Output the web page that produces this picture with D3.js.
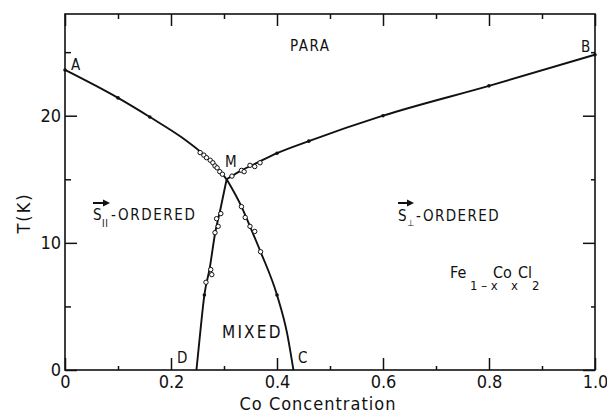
<!DOCTYPE html>
<html>
<head>
<meta charset="utf-8">
<script src="https://cdn.jsdelivr.net/npm/d3@7"></script>
<style>
  html, body { margin: 0; padding: 0; background: #fff; }
  svg { display: block; }
  text { font-family: "Liberation Sans Narrow", "Arial Narrow", "DejaVu Sans Condensed", "Liberation Sans", sans-serif; fill: #111; }
</style>
</head>
<body>
<svg id="chart" width="607" height="413"></svg>
<script>
// Fe(1-x)Co(x)Cl2 magnetic phase diagram: T (K) versus Co concentration x

// axis ticks
const xMajorTicks = [0, 0.2, 0.4, 0.6, 0.8, 1.0];
const xMajorLabels = ["0", "0.2", "0.4", "0.6", "0.8", "1.0"];
const xMinorTicks = [0.1, 0.3, 0.5, 0.7, 0.9];
const yMajorTicks = [0, 10, 20];
const yMajorLabels = ["0", "10", "20"];
const yMinorTicks = [5, 15, 25];

// phase boundaries [x, T], each running from an end point to the multicritical point M
const boundaryAM = [[0, 23.6], [0.1, 21.4], [0.16, 19.9], [0.22, 18.3], [0.26, 17.0], [0.285, 16.0], [0.305, 15.0]];
const boundaryMB = [[0.305, 15.0], [0.333, 15.7], [0.36, 16.25], [0.4, 17.05], [0.46, 18.0], [0.6, 20.0], [0.8, 22.35], [1.0, 24.8]];
const boundaryMC = [[0.305, 15.0], [0.333, 12.85], [0.349, 11.3], [0.369, 9.3], [0.4, 5.9], [0.419, 2.9], [0.431, 0]];
const boundaryMD = [[0.248, 0], [0.256, 3.3], [0.263, 5.9], [0.273, 8.0], [0.283, 10.7], [0.293, 12.6], [0.305, 15.0]];

// measured transition points (open circles)
const openPoints = [
  [0.255, 17.1], [0.262, 16.9], [0.267, 16.7], [0.274, 16.5], [0.279, 16.3], [0.283, 16.05], [0.287, 15.9], [0.292, 15.6], [0.297, 15.4],
  [0.315, 15.25], [0.333, 15.7], [0.338, 15.6], [0.349, 16.1], [0.358, 16.0], [0.368, 16.3],
  [0.333, 12.85], [0.34, 12.0], [0.349, 11.3], [0.358, 10.9], [0.369, 9.3],
  [0.294, 12.3], [0.286, 11.9], [0.289, 11.3], [0.283, 10.8], [0.275, 7.9], [0.277, 7.5], [0.266, 6.9]
];
// measured transition points (small solid dots)
const solidPoints = [
  [0, 23.6], [0.1, 21.4], [0.16, 19.9], [0.4, 17.05], [0.46, 18.0], [0.6, 20.0], [0.8, 22.35], [1.0, 24.8], [0.4, 5.9], [0.263, 5.9]
];

const svg = d3.select("#chart");
const x = d3.scaleLinear().domain([0, 1]).range([65, 595]);
const y = d3.scaleLinear().domain([0, 28]).range([370, 14]);

// frame
svg.append("rect")
  .attr("x", x(0)).attr("y", y(28))
  .attr("width", x(1) - x(0)).attr("height", y(0) - y(28))
  .attr("fill", "none").attr("stroke", "#111").attr("stroke-width", 1.6);

function styleAxis(g, fontSize) {
  g.select(".domain").remove();
  g.selectAll(".tick line").attr("stroke", "#111").attr("stroke-width", 1.5);
  g.selectAll(".tick text").attr("fill", "#111").style("font-size", fontSize + "px")
    .style("font-family", '"Liberation Sans Narrow", "Arial Narrow", "DejaVu Sans Condensed", "Liberation Sans", sans-serif');
}

// bottom axis (ticks point inward)
svg.append("g").attr("transform", `translate(0,${y(0)})`)
  .call(d3.axisBottom(x).tickValues(xMajorTicks).tickSize(-12).tickPadding(5)
    .tickFormat((d, i) => xMajorLabels[i]))
  .call(g => styleAxis(g, 18));
svg.append("g").attr("transform", `translate(0,${y(0)})`)
  .call(d3.axisBottom(x).tickValues(xMinorTicks).tickSize(-4).tickFormat(""))
  .call(g => styleAxis(g, 18));

// top axis
svg.append("g").attr("transform", `translate(0,${y(28)})`)
  .call(d3.axisTop(x).tickValues(xMajorTicks).tickSize(-12).tickFormat(""))
  .call(g => styleAxis(g, 18));
svg.append("g").attr("transform", `translate(0,${y(28)})`)
  .call(d3.axisTop(x).tickValues(xMinorTicks).tickSize(-5).tickFormat(""))
  .call(g => styleAxis(g, 18));

// left axis
svg.append("g").attr("transform", `translate(${x(0)},0)`)
  .call(d3.axisLeft(y).tickValues(yMajorTicks).tickSize(-12).tickPadding(4)
    .tickFormat((d, i) => yMajorLabels[i]))
  .call(g => styleAxis(g, 18));
svg.append("g").attr("transform", `translate(${x(0)},0)`)
  .call(d3.axisLeft(y).tickValues(yMinorTicks).tickSize(-6).tickFormat(""))
  .call(g => styleAxis(g, 18));

// right axis
svg.append("g").attr("transform", `translate(${x(1)},0)`)
  .call(d3.axisRight(y).tickValues(yMajorTicks).tickSize(-12).tickFormat(""))
  .call(g => styleAxis(g, 18));
svg.append("g").attr("transform", `translate(${x(1)},0)`)
  .call(d3.axisRight(y).tickValues(yMinorTicks).tickSize(-4).tickFormat(""))
  .call(g => styleAxis(g, 18));

// axis titles
svg.append("text")
  .attr("transform", `translate(30,213) rotate(-90)`)
  .attr("text-anchor", "middle")
  .style("font-size", "18px").style("letter-spacing", "2px")
  .text("T(K)");
svg.append("text")
  .attr("x", 318).attr("y", 410)
  .attr("text-anchor", "middle")
  .style("font-size", "18px").style("letter-spacing", "1px")
  .text("Co Concentration");

// phase boundaries
const line = d3.line().x(d => x(d[0])).y(d => y(d[1])).curve(d3.curveMonotoneX);
[boundaryAM, boundaryMB, boundaryMC, boundaryMD].forEach(b => {
  svg.append("path").attr("d", line(b))
    .attr("fill", "none").attr("stroke", "#111").attr("stroke-width", 1.9)
    .attr("stroke-linejoin", "round");
});

// data points
svg.append("g").selectAll("circle").data(openPoints).join("circle")
  .attr("cx", d => x(d[0])).attr("cy", d => y(d[1])).attr("r", 2.2)
  .attr("fill", "#fff").attr("stroke", "#111").attr("stroke-width", 1);
svg.append("g").selectAll("circle").data(solidPoints).join("circle")
  .attr("cx", d => x(d[0])).attr("cy", d => y(d[1])).attr("r", 1.8)
  .attr("fill", "#111");

// point labels
const pointLabels = [
  { t: "A", px: 71, py: 70 },
  { t: "B", px: 581, py: 52 },
  { t: "M", px: 225, py: 167 },
  { t: "D", px: 177, py: 363 },
  { t: "C", px: 298, py: 363 }
];
svg.append("g").selectAll("text").data(pointLabels).join("text")
  .attr("x", d => d.px).attr("y", d => d.py)
  .style("font-size", "15px")
  .text(d => d.t);

// region labels
svg.append("text").attr("x", 290).attr("y", 51)
  .style("font-size", "15px").style("letter-spacing", "1.5px").text("PARA");
svg.append("text").attr("x", 222).attr("y", 338)
  .style("font-size", "17px").style("letter-spacing", "2.2px").text("MIXED");

function arrow(x0, x1, yy) {
  svg.append("line").attr("x1", x0).attr("x2", x1 - 5).attr("y1", yy).attr("y2", yy)
    .attr("stroke", "#111").attr("stroke-width", 2);
  svg.append("path").attr("d", `M${x1},${yy} L${x1 - 7},${yy - 3.5} L${x1 - 7},${yy + 3.5} Z`).attr("fill", "#111");
}

// S-parallel ordered
const sPar = svg.append("text").attr("x", 93).attr("y", 220).style("font-size", "15px");
sPar.append("tspan").text("S");
sPar.append("tspan").attr("x", 102).attr("y", 227).style("font-size", "10px").style("letter-spacing", "0.5px").text("II");
sPar.append("tspan").attr("x", 111).attr("y", 220).text("-");
sPar.append("tspan").attr("x", 118).attr("y", 220).style("letter-spacing", "1.6px").text("ORDERED");
arrow(93, 110, 203);

// S-perpendicular ordered
const sPerp = svg.append("text").attr("x", 398).attr("y", 221).style("font-size", "15px");
sPerp.append("tspan").text("S");
sPerp.append("tspan").attr("x", 407).attr("y", 226).style("font-size", "9px").text("⊥");
sPerp.append("tspan").attr("x", 416).attr("y", 221).text("-");
sPerp.append("tspan").attr("x", 423).attr("y", 221).style("letter-spacing", "1.4px").text("ORDERED");
arrow(398, 414, 203);

// compound formula
const formula = svg.append("text").attr("x", 450).attr("y", 278).style("font-size", "16px");
formula.append("tspan").text("Fe");
formula.append("tspan").attr("x", 470).attr("y", 290).style("font-size", "13px").text("1 – x");
formula.append("tspan").attr("x", 493).attr("y", 278).text("Co");
formula.append("tspan").attr("x", 511).attr("y", 290).style("font-size", "13px").text("x");
formula.append("tspan").attr("x", 518).attr("y", 278).text("Cl");
formula.append("tspan").attr("x", 532).attr("y", 290).style("font-size", "13px").text("2");
</script>
</body>
</html>
